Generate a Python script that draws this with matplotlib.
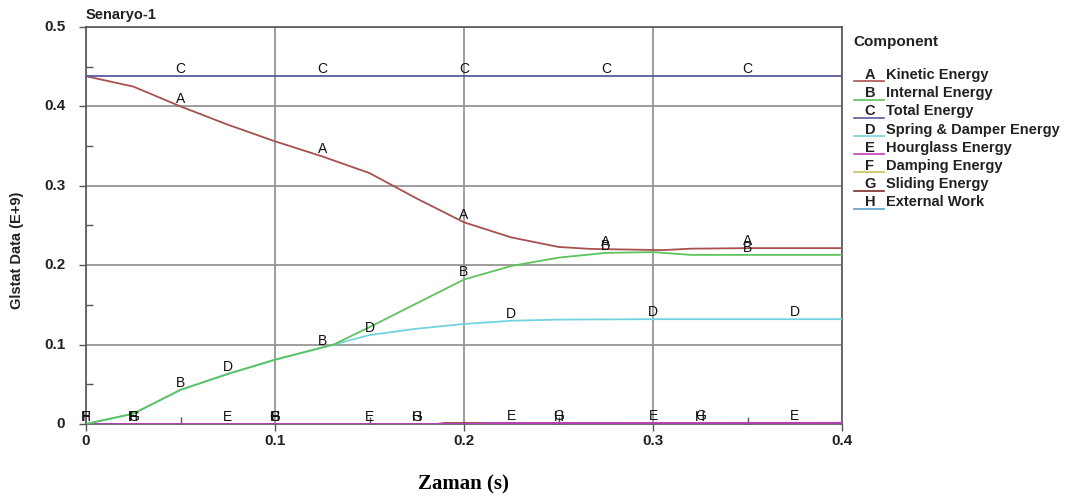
import numpy as np
import matplotlib
matplotlib.use("Agg")
import matplotlib.pyplot as plt
from matplotlib.lines import Line2D
from matplotlib.ticker import MultipleLocator

plt.rcParams['font.family'] = ['Liberation Sans', 'DejaVu Sans']

# ---- data (Glstat energies, E+9) ----
t_A = [0, 0.025, 0.05, 0.075, 0.1, 0.125, 0.15, 0.175, 0.2, 0.225, 0.25, 0.267, 0.305, 0.32, 0.35, 0.4]
kinetic = [0.438, 0.425, 0.400, 0.377, 0.356, 0.337, 0.316, 0.284, 0.254, 0.235, 0.223, 0.2205, 0.219, 0.2208, 0.2215, 0.2215]

t_B = [0, 0.025, 0.05, 0.075, 0.1, 0.131, 0.15, 0.175, 0.2, 0.225, 0.25, 0.275, 0.3, 0.32, 0.35, 0.4]
internal = [0, 0.013, 0.043, 0.063, 0.081, 0.100, 0.122, 0.152, 0.182, 0.199, 0.2095, 0.2155, 0.2165, 0.213, 0.213, 0.213]

t_C = [0, 0.4]
total = [0.4387, 0.4387]

t_D = [0, 0.025, 0.05, 0.075, 0.1, 0.131, 0.15, 0.175, 0.2, 0.225, 0.25, 0.3, 0.4]
spring_damper = [0, 0.013, 0.043, 0.063, 0.081, 0.100, 0.112, 0.120, 0.126, 0.130, 0.1315, 0.132, 0.132]

t_E = [0, 0.2, 0.21, 0.22, 0.3, 0.4]
hourglass = [0, 0, 0.0004, 0.0013, 0.0014, 0.0015]

t_F = [0, 0.4]
damping = [0, 0]

t_G = [0, 0.185, 0.19, 0.21, 0.4]
sliding = [0, 0, 0.0011, 0.0011, 0.0009]

t_H = [0, 0.4]
external = [0, 0]

letters = ['A', 'B', 'C', 'D', 'E', 'F', 'G', 'H']
names = ['Kinetic Energy', 'Internal Energy', 'Total Energy', 'Spring & Damper Energy',
         'Hourglass Energy', 'Damping Energy', 'Sliding Energy', 'External Work']
colors = ['#a85050', '#5cc45c', '#5a5aa0', '#72d2e0', '#c040c0', '#c8c060', '#7a2a2a', '#5aa0cc']
times = [t_A, t_B, t_C, t_D, t_E, t_F, t_G, t_H]
values = [kinetic, internal, total, spring_damper, hourglass, damping, sliding, external]
label_at = [
    [0.05, 0.125, 0.2, 0.275, 0.35],
    [0.05, 0.125, 0.2, 0.275, 0.35],
    [0.05, 0.125, 0.2, 0.275, 0.35],
    [0.075, 0.15, 0.225, 0.3, 0.375],
    [0.075, 0.15, 0.225, 0.3, 0.375],
    [0.0, 0.025, 0.1],
    [0.025, 0.1, 0.175, 0.25, 0.325],
    [0.0, 0.025, 0.1, 0.175, 0.25, 0.325],
]
zorders = [5, 4, 5, 3, 2.6, 2.2, 2.4, 2.0]

fig = plt.figure(figsize=(10.78, 4.98), dpi=100)
ax = fig.add_axes([86 / 1078, 1 - 424 / 498, 756 / 1078, 397 / 498])

for t, v, c, letter, pos, z in zip(times, values, colors, letters, label_at, zorders):
    ax.plot(t, v, color=c, lw=1.3, zorder=z, solid_capstyle='butt')
    for p in pos:
        ax.text(p, np.interp(p, t, v), letter, ha='center', va='bottom',
                fontsize=10, color='#111111', zorder=6, clip_on=False)

ax.set_xlim(0, 0.4)
ax.set_ylim(0, 0.5)
ax.xaxis.set_major_locator(MultipleLocator(0.1))
ax.xaxis.set_minor_locator(MultipleLocator(0.05))
ax.yaxis.set_major_locator(MultipleLocator(0.1))
ax.yaxis.set_minor_locator(MultipleLocator(0.05))
ax.set_xticklabels([])
ax.set_yticklabels([])
for v in [0, 0.1, 0.2, 0.3, 0.4]:
    ax.text(v, -0.012, f'{v:g}', ha='center', va='top',
            fontsize=11, fontweight='bold', color='#222222')
for v in [0, 0.1, 0.2, 0.3, 0.4, 0.5]:
    ax.text(-0.011, v, f'{v:g}', ha='right', va='center',
            fontsize=11, fontweight='bold', color='#222222')
ax.tick_params(which='major', direction='out', length=5, width=1, color='#555555')
ax.tick_params(which='minor', direction='in', length=5, width=1, color='#555555')
ax.grid(which='major', color='#959595', lw=1.3, zorder=0)
ax.set_axisbelow(True)
for s in ax.spines.values():
    s.set_color('#555555')
    s.set_linewidth(1.2)

fig.text(86 / 1078, 1 - 15 / 498, 'Senaryo-1', ha='left', va='center',
         fontsize=10.5, fontweight='bold', color='#222222')
fig.text(17 / 1078, 1 - 250 / 498, 'Glstat Data (E+9)', rotation=90, ha='center', va='center',
         fontsize=10.5, fontweight='bold', color='#222222')
fig.text(463 / 1078, 1 - 484 / 498, 'Zaman (s)', ha='center', va='center',
         fontsize=15, fontweight='bold', family=['Liberation Serif', 'DejaVu Serif'])

# component key on the right
fig.text(853 / 1078, 1 - 42 / 498, 'Component', ha='left', va='center',
         fontsize=11, fontweight='bold', color='#222222')
for i, (letter, name, c) in enumerate(zip(letters, names, colors)):
    yc = 1 - (75 + i * 18.2) / 498
    yl = 1 - (81.5 + i * 18.2) / 498
    fig.add_artist(Line2D([854 / 1078, 884 / 1078], [yl, yl], color=c, lw=1.2,
                          transform=fig.transFigure))
    fig.text(870 / 1078, yc, letter, ha='center', va='center',
             fontsize=10.5, fontweight='bold', color='#222222')
    fig.text(886 / 1078, yc, name, ha='left', va='center',
             fontsize=10.5, fontweight='bold', color='#222222')

fig.savefig('out.png', dpi=100)
